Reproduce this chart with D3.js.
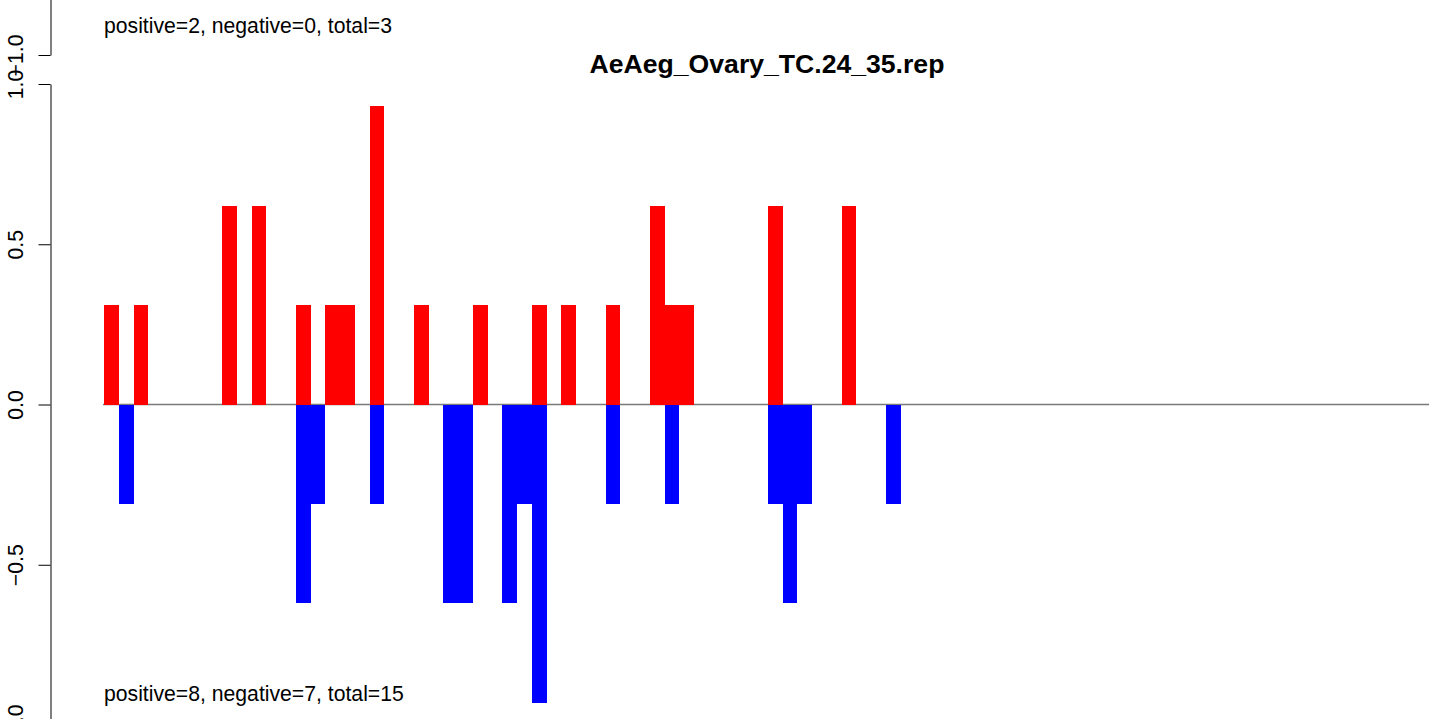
<!DOCTYPE html>
<html>
<head>
<meta charset="utf-8">
<script src="https://cdn.jsdelivr.net/npm/d3@7"></script>
<style>
  html, body { margin: 0; padding: 0; background: #fff; }
  svg { display: block; }
  text { font-family: "Liberation Sans", Arial, Helvetica, sans-serif; }
</style>
</head>
<body>
<svg id="chart" width="1429" height="719"></svg>
<script>
// ---- data ----
const chartTitle = "AeAeg_Ovary_TC.24_35.rep";
const upperNote = "positive=2, negative=0, total=3";
const lowerNote = "positive=8, negative=7, total=15";

const posIndex = [0, 2, 8, 10, 13, 15, 16, 18, 21, 25, 29, 31, 34, 37, 38, 39, 45, 50];
const posValue = [0.31, 0.31, 0.62, 0.62, 0.31, 0.31, 0.31, 0.93, 0.31, 0.31, 0.31, 0.31, 0.31, 0.62, 0.31, 0.31, 0.62, 0.62];

const negIndex = [1, 13, 14, 18, 23, 24, 27, 28, 29, 34, 38, 45, 46, 47, 53];
const negValue = [-0.31, -0.62, -0.31, -0.31, -0.62, -0.62, -0.62, -0.31, -0.93, -0.31, -0.31, -0.31, -0.62, -0.31, -0.31];

const yTicks = [-1, -0.5, 0, 0.5, 1];
const upperTicks = [-1];

// ---- drawing ----
const svg = d3.select("#chart");
const fontSize = 21.2;

const x = d3.scaleLinear().domain([0, 90]).range([104, 104 + 90 * 14.75]);
const barW = x(1) - x(0);
const y = d3.scaleLinear().domain([-1, 1]).range([725, 84]);
const yUpper = d3.scaleLinear().domain([-1, 1]).range([55, -586]);

// zero line
svg.append("line")
  .attr("x1", x(0) - 1).attr("x2", x(90))
  .attr("y1", y(0)).attr("y2", y(0))
  .attr("stroke", "#7a7a7a").attr("stroke-width", 1.4);

const pos = posIndex.map((p, i) => ({ p, v: posValue[i] }));
const neg = negIndex.map((p, i) => ({ p, v: negValue[i] }));

svg.append("g").selectAll("rect").data(pos).join("rect")
  .attr("x", d => x(d.p)).attr("width", barW)
  .attr("y", d => y(d.v)).attr("height", d => y(0) - y(d.v))
  .attr("fill", "#ff0000").attr("shape-rendering", "crispEdges");

svg.append("g").selectAll("rect").data(neg).join("rect")
  .attr("x", d => x(d.p)).attr("width", barW)
  .attr("y", y(0)).attr("height", d => y(d.v) - y(0))
  .attr("fill", "#0000ff").attr("shape-rendering", "crispEdges");

function styleAxis(g) {
  g.selectAll("path, line").attr("stroke", "#000").attr("stroke-width", 1);
  g.selectAll("text")
    .attr("x", null).attr("dy", null)
    .attr("transform", "translate(-28,0) rotate(-90)")
    .attr("text-anchor", "middle")
    .attr("fill", "#000")
    .style("font-size", fontSize + "px")
    .style("font-family", '"Liberation Sans", Arial, Helvetica, sans-serif');
}

const fmt = d3.format(".1f");

svg.append("g").attr("transform", "translate(50.5,0)")
  .call(d3.axisLeft(y).tickValues(yTicks).tickFormat(fmt).tickSize(12).tickSizeOuter(0))
  .call(styleAxis);

svg.append("g").attr("transform", "translate(50.5,0)")
  .call(d3.axisLeft(yUpper).tickValues(upperTicks).tickFormat(fmt).tickSize(12).tickSizeOuter(0))
  .call(styleAxis);

// texts
svg.append("text").attr("x", 767).attr("y", 73)
  .attr("text-anchor", "middle")
  .style("font-size", "26.6px").style("font-weight", "bold")
  .text(chartTitle);

svg.append("text").attr("x", 104).attr("y", 33)
  .style("font-size", fontSize + "px")
  .text(upperNote);

svg.append("text").attr("x", 104).attr("y", 701)
  .style("font-size", fontSize + "px")
  .text(lowerNote);
</script>
</body>
</html>
